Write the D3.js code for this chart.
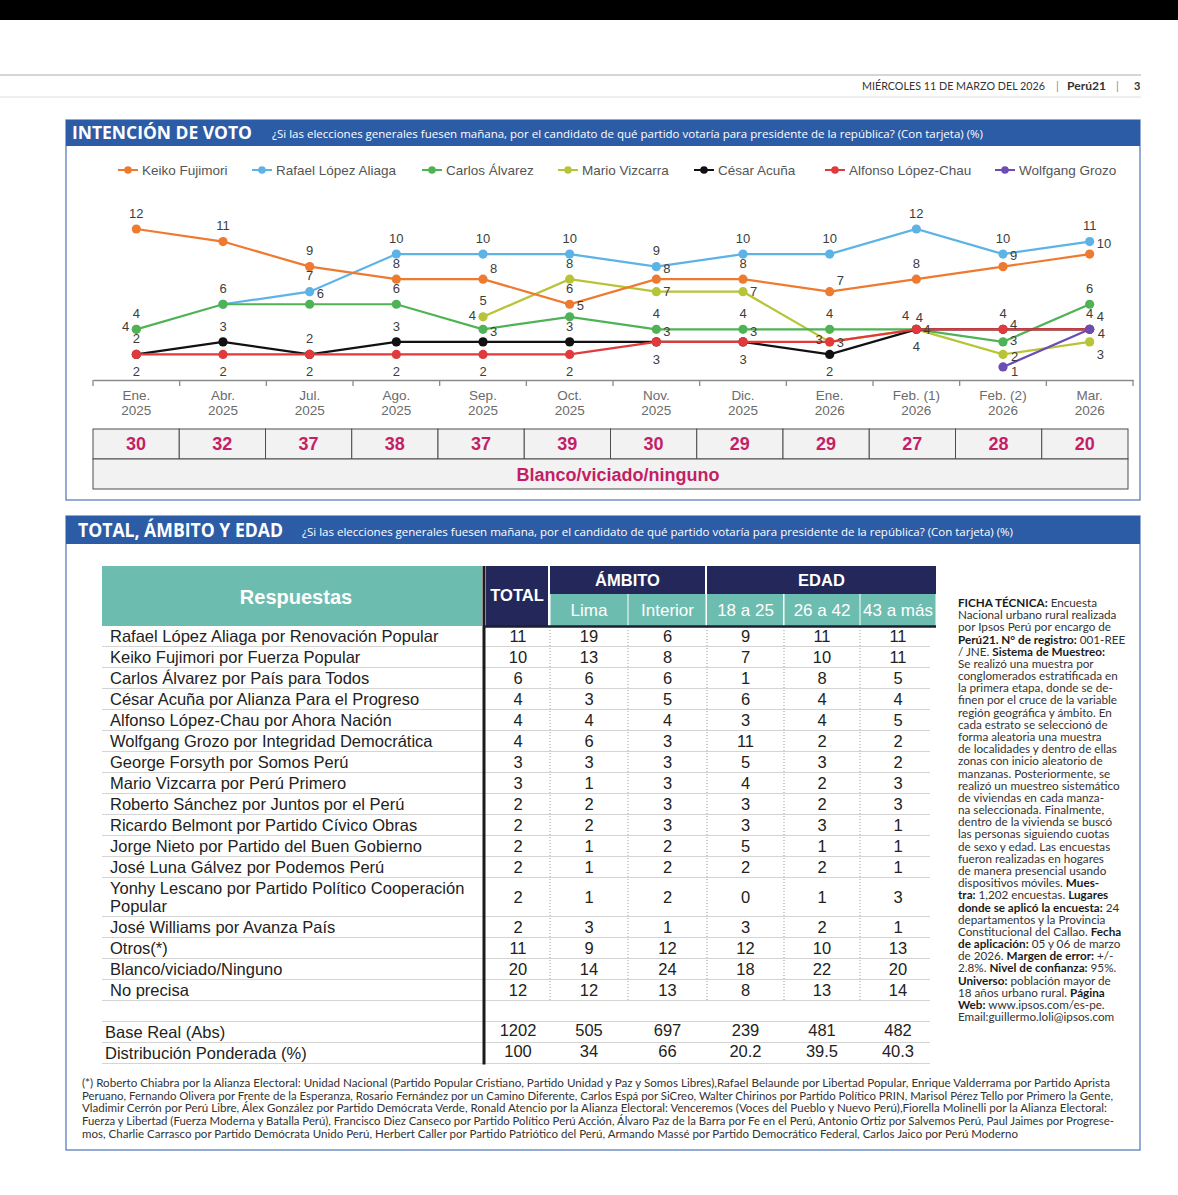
<!DOCTYPE html>
<html lang="es">
<head>
<meta charset="utf-8">
<title>Intención de voto</title>
<script src="https://cdn.jsdelivr.net/npm/d3@7"></script>
<style>
  body { margin: 0; background: #fff; }
  svg { display: block; }
</style>
</head>
<body>
<svg id="pagina"></svg>
<script>
// ---------- datos: intención de voto ----------
const meses = ["Ene.", "Abr.", "Jul.", "Ago.", "Sep.", "Oct.", "Nov.", "Dic.", "Ene.", "Feb. (1)", "Feb. (2)", "Mar."];
const anios = ["2025", "2025", "2025", "2025", "2025", "2025", "2025", "2025", "2026", "2026", "2026", "2026"];
const candidatos = ["Keiko Fujimori", "Rafael López Aliaga", "Carlos Álvarez", "Mario Vizcarra", "César Acuña", "Alfonso López-Chau", "Wolfgang Grozo"];

const keiko       = [12, 11, 9, 8, 8, 6, 8, 8, 7, 8, 9, 10];
const lopezAliaga = [null, 6, 7, 10, 10, 10, 9, 10, 10, 12, 10, 11];
const alvarez     = [4, 6, 6, 6, 4, 5, 4, 4, 4, 4, 3, 6];
const vizcarra    = [4, null, null, null, 5, 8, 7, 7, 3, 4, 2, 3];
const acuna       = [2, 3, 2, 3, 3, 3, 3, 3, 2, 4, 4, 4];
const lopezChau   = [2, 2, 2, 2, 2, 2, 3, 3, 3, 4, 4, 4];
const grozo       = [null, null, null, null, null, null, null, null, null, null, 1, 4];

const blanco = [30, 32, 37, 38, 37, 39, 30, 29, 29, 27, 28, 20];

// ---------- datos: total, ámbito y edad ----------
const respuestas = [
  "Rafael López Aliaga por Renovación Popular",
  "Keiko Fujimori por Fuerza Popular",
  "Carlos Álvarez por País para Todos",
  "César Acuña por Alianza Para el Progreso",
  "Alfonso López-Chau por Ahora Nación",
  "Wolfgang Grozo por Integridad Democrática",
  "George Forsyth por Somos Perú",
  "Mario Vizcarra por Perú Primero",
  "Roberto Sánchez por Juntos por el Perú",
  "Ricardo Belmont por Partido Cívico Obras",
  "Jorge Nieto por Partido del Buen Gobierno",
  "José Luna Gálvez por Podemos Perú",
  "Yonhy Lescano por Partido Político Cooperación Popular",
  "José Williams por Avanza País",
  "Otros(*)",
  "Blanco/viciado/Ninguno",
  "No precisa"
];
const total    = [11, 10, 6, 4, 4, 4, 3, 3, 2, 2, 2, 2, 2, 2, 11, 20, 12];
const lima     = [19, 13, 6, 3, 4, 6, 3, 1, 2, 2, 1, 1, 1, 3, 9, 14, 12];
const interior = [6, 8, 6, 5, 4, 3, 3, 3, 3, 3, 2, 2, 2, 1, 12, 24, 13];
const edad18   = [9, 7, 1, 6, 3, 11, 5, 4, 3, 3, 5, 2, 0, 3, 12, 18, 8];
const edad26   = [11, 10, 8, 4, 4, 2, 3, 2, 2, 3, 1, 2, 1, 2, 10, 22, 13];
const edad43   = [11, 11, 5, 4, 5, 2, 2, 3, 3, 1, 1, 1, 3, 1, 13, 20, 14];
const baseReal     = ["1202", "505", "697", "239", "481", "482"];
const distribucion = ["100", "34", "66", "20.2", "39.5", "40.3"];

const ficha = [
  "**FICHA TÉCNICA:** Encuesta",
  "Nacional urbano rural realizada",
  "por Ipsos Perú por encargo de",
  "**Perú21. N° de registro:** 001-REE",
  "/ JNE. **Sistema de Muestreo:**",
  "Se realizó una muestra por",
  "conglomerados estratificada en",
  "la primera etapa, donde se de-",
  "finen por el cruce de la variable",
  "región geográfica y ámbito. En",
  "cada estrato se seleccionó de",
  "forma aleatoria una muestra",
  "de localidades y dentro de ellas",
  "zonas con inicio aleatorio de",
  "manzanas. Posteriormente, se",
  "realizó un muestreo sistemático",
  "de viviendas en cada manza-",
  "na seleccionada. Finalmente,",
  "dentro de la vivienda se buscó",
  "las personas siguiendo cuotas",
  "de sexo y edad. Las encuestas",
  "fueron realizadas en hogares",
  "de manera presencial usando",
  "dispositivos móviles. **Mues-**",
  "**tra:** 1,202 encuestas. **Lugares**",
  "**donde se aplicó la encuesta:** 24",
  "departamentos y la Provincia",
  "Constitucional del Callao. **Fecha**",
  "**de aplicación:** 05 y 06 de marzo",
  "de 2026. **Margen de error:** +/-",
  "2.8%. **Nivel de confianza:** 95%.",
  "**Universo:** población mayor de",
  "18 años urbano rural. **Página**",
  "**Web:** www.ipsos.com/es-pe.",
  "Email:guillermo.loli@ipsos.com"
];

const notas = [
  "(*) Roberto Chiabra por la Alianza Electoral: Unidad Nacional (Partido Popular Cristiano, Partido Unidad y Paz y Somos Libres),Rafael Belaunde por Libertad Popular, Enrique Valderrama por Partido Aprista",
  "Peruano, Fernando Olivera por Frente de la Esperanza, Rosario Fernández por un Camino Diferente, Carlos Espá por SiCreo, Walter Chirinos por Partido Político PRIN, Marisol Pérez Tello por Primero la Gente,",
  "Vladimir Cerrón por Perú Libre, Álex González por Partido Demócrata Verde, Ronald Atencio por la Alianza Electoral: Venceremos (Voces del Pueblo y Nuevo Perú),Fiorella Molinelli por la Alianza Electoral:",
  "Fuerza y Libertad (Fuerza Moderna y Batalla Perú), Francisco Diez Canseco por Partido Político Perú Acción, Álvaro Paz de la Barra por Fe en el Perú, Antonio Ortiz por Salvemos Perú, Paul Jaimes por Progrese-",
  "mos, Charlie Carrasco por Partido Demócrata Unido Perú, Herbert Caller por Partido Patriótico del Perú, Armando Massé por Partido Democrático Federal, Carlos Jaico por Perú Moderno"
];

const subtitulo = "¿Si las elecciones generales fuesen mañana, por el candidato de qué partido votaría para presidente de la república? (Con tarjeta) (%)";

// ---------- estilos ----------
const width = 1178, height = 1195;
const azul = "#2d5ca7", navy = "#23275a", teal = "#6cbdb0", magenta = "#c41f66";
const colores = ["#ee7a30", "#5db3e5", "#4fb356", "#b7c437", "#111111", "#e23a3c", "#6c4db5"];
const valores = [keiko, lopezAliaga, alvarez, vizcarra, acuna, lopezChau, grozo];
const ordenDibujo = [3, 1, 0, 2, 4, 5, 6];   // el último queda encima

// dónde va cada etiqueta de valor (t arriba, b abajo, r derecha, l izquierda...)
const posEtiq = [
  ["t", "t", "t", "t", "ra", "t", "ra", "t", "ra", "t", "ra", "ra"],
  ["", "", "t", "t", "t", "t", "t", "t", "t", "t", "t", "t"],
  ["t", "t", "ra", "t", "la", "ra", "t", "t", "t", "la", "rg", "t"],
  ["l", "", "", "", "t", "t", "r", "r", "l", "r", "r2", "rb"],
  ["t", "t", "t", "t", "ra", "t", "ra", "ra", "b", "b", "ru", "rA"],
  ["b", "b", "b", "b", "b", "b", "b", "b", "r", "tr", "t", "t"],
  ["", "", "", "", "", "", "", "", "", "", "rd", "rd"]
];
const offs = {
  t:  {dx: 0,  dy: -16, a: "middle"},
  tr: {dx: 3,  dy: -12, a: "middle"},
  b:  {dx: 0,  dy: 17,  a: "middle"},
  r:  {dx: 7,  dy: 0,   a: "start"},
  ru: {dx: 7,  dy: -5,  a: "start"},
  rg: {dx: 7,  dy: -2,  a: "start"},
  r2: {dx: 8,  dy: 2,   a: "start"},
  rd: {dx: 8,  dy: 4,   a: "start"},
  ra: {dx: 7,  dy: -11, a: "start"},
  rA: {dx: 7,  dy: -13, a: "start"},
  rb: {dx: 7,  dy: 12,  a: "start"},
  l:  {dx: -7, dy: -3,  a: "end"},
  la: {dx: -7, dy: -14, a: "end"}
};

const svg = d3.select("#pagina")
    .attr("width", width)
    .attr("height", height)
    .attr("viewBox", [0, 0, width, height])
    .attr("font-family", "'Liberation Sans', Arial, sans-serif");

// ---------- cabecera del diario ----------
svg.append("rect").attr("width", width).attr("height", 20).attr("fill", "#000");
svg.append("line").attr("x1", 0).attr("x2", 1141).attr("y1", 75).attr("y2", 75).attr("stroke", "#c8c8c8").attr("stroke-width", 1.5);
svg.append("line").attr("x1", 0).attr("x2", 1141).attr("y1", 97).attr("y2", 97).attr("stroke", "#dedede").attr("stroke-width", 1);
const cab = svg.append("g").attr("font-family", "Lato, 'Open Sans', sans-serif").attr("fill", "#333").attr("font-size", 11);
cab.append("text").attr("x", 862).attr("y", 90).attr("textLength", 183).attr("lengthAdjust", "spacingAndGlyphs").text("MIÉRCOLES 11 DE MARZO DEL 2026");
cab.append("text").attr("x", 1056).attr("y", 90).attr("fill", "#888").text("|");
cab.append("text").attr("x", 1067).attr("y", 90).attr("font-weight", "bold").attr("textLength", 39).attr("lengthAdjust", "spacingAndGlyphs").text("Perú21");
cab.append("text").attr("x", 1116).attr("y", 90).attr("fill", "#888").text("|");
cab.append("text").attr("x", 1134).attr("y", 90).attr("font-weight", "bold").text("3");

// ---------- marcos con barra de título ----------
function panel(y0, y1, hBarra, titulo, tx, tw, ts, sx) {
  const g = svg.append("g");
  g.append("rect").attr("x", 66).attr("y", y0).attr("width", 1074).attr("height", y1 - y0)
      .attr("fill", "#fff").attr("stroke", "#5b7fbd").attr("stroke-width", 1.3);
  g.append("rect").attr("x", 66).attr("y", y0).attr("width", 1074).attr("height", hBarra).attr("fill", azul);
  g.append("text").attr("x", tx).attr("y", y0 + hBarra - 7)
      .attr("font-family", "'Open Sans', sans-serif").attr("font-weight", "bold")
      .attr("font-size", ts).attr("fill", "#fff")
      .attr("textLength", tw).attr("lengthAdjust", "spacingAndGlyphs").text(titulo);
  g.append("text").attr("x", sx).attr("y", y0 + hBarra - 8)
      .attr("font-family", "'Open Sans', sans-serif").attr("font-size", 11).attr("fill", "#fff")
      .attr("textLength", 711).attr("lengthAdjust", "spacingAndGlyphs").text(subtitulo);
}
panel(120, 500, 26, "INTENCIÓN DE VOTO", 72, 180, 18, 272);
panel(516, 1150, 28, "TOTAL, ÁMBITO Y EDAD", 78, 205, 20, 302);

// ---------- gráfico de líneas ----------
const x = d3.scaleBand().domain(d3.range(meses.length)).range([93, 1133]);
const y = d3.scaleLinear().domain([0, 12]).range([379.5, 229]);
const cx = i => x(i) + x.bandwidth() / 2;

// leyenda
const legX = [118, 252, 422, 558, 694, 825, 995];
const leg = svg.append("g").selectAll("g").data(candidatos).join("g")
    .attr("transform", (d, i) => `translate(${legX[i]},170)`);
leg.append("line").attr("x2", 20).attr("stroke", (d, i) => colores[i]).attr("stroke-width", 2);
leg.append("circle").attr("cx", 10).attr("r", 3.8).attr("fill", (d, i) => colores[i]);
leg.append("text").attr("x", 24).attr("dy", "0.35em").attr("font-size", 13.5).attr("fill", "#555").text(d => d);

// eje x con marcas en los límites de cada mes
const gx = svg.append("g").attr("transform", "translate(0,380)")
    .call(d3.axisBottom(x).tickSize(0).tickSizeOuter(0).tickFormat(""));
gx.select(".domain").attr("stroke", "#8a8a8a").attr("stroke-width", 1.3);
gx.selectAll(".marca").data(d3.range(meses.length + 1)).join("line")
    .attr("class", "marca")
    .attr("x1", i => i < meses.length ? x(i) : x.range()[1])
    .attr("x2", i => i < meses.length ? x(i) : x.range()[1])
    .attr("y2", 6).attr("stroke", "#8a8a8a").attr("stroke-width", 1.3);
const mt = gx.selectAll(".mes").data(d3.range(meses.length)).join("text")
    .attr("class", "mes").attr("text-anchor", "middle")
    .attr("font-size", 13.5).attr("fill", "#6b6b6b");
mt.append("tspan").attr("x", cx).attr("y", 20).text(i => meses[i]);
mt.append("tspan").attr("x", cx).attr("y", 35).text(i => anios[i]);

// líneas y puntos
const linea = d3.line()
    .defined(d => d.v != null)
    .x(d => cx(d.i))
    .y(d => y(d.v));

const gl = svg.append("g");
ordenDibujo.forEach(k => {
  const pts = valores[k].map((v, i) => ({i, v}));
  gl.append("path").datum(pts)
      .attr("d", linea).attr("fill", "none")
      .attr("stroke", colores[k]).attr("stroke-width", 2.2);
  gl.append("g").selectAll("circle").data(pts.filter(d => d.v != null)).join("circle")
      .attr("cx", d => cx(d.i)).attr("cy", d => y(d.v)).attr("r", 4.6)
      .attr("fill", colores[k]);
});

// etiquetas de valor
const etiq = [];
valores.forEach((serie, k) => serie.forEach((v, i) => {
  if (v != null && posEtiq[k][i]) etiq.push({v, i, o: offs[posEtiq[k][i]]});
}));
svg.append("g").selectAll("text").data(etiq).join("text")
    .attr("x", d => cx(d.i) + d.o.dx)
    .attr("y", d => y(d.v) + d.o.dy)
    .attr("dy", "0.36em")
    .attr("text-anchor", d => d.o.a)
    .attr("font-size", 13).attr("fill", "#3d3d3d")
    .text(d => d.v);

// franja de blanco/viciado/ninguno (algo más corta que el eje)
const xb = x.copy().range([93, 1128]);
const gb = svg.append("g");
gb.selectAll("rect").data(blanco).join("rect")
    .attr("x", (d, i) => xb(i)).attr("y", 429)
    .attr("width", xb.bandwidth()).attr("height", 30)
    .attr("fill", "#f2f2f2").attr("stroke", "#4d4d4d").attr("stroke-width", 1);
gb.append("rect").attr("x", xb.range()[0]).attr("y", 459)
    .attr("width", xb.range()[1] - xb.range()[0]).attr("height", 30)
    .attr("fill", "#f2f2f2").attr("stroke", "#4d4d4d").attr("stroke-width", 1);
gb.selectAll("text.num").data(blanco).join("text")
    .attr("class", "num")
    .attr("x", (d, i) => xb(i) + xb.bandwidth() / 2).attr("y", 444).attr("dy", "0.36em")
    .attr("text-anchor", "middle").attr("font-size", 18).attr("font-weight", "bold")
    .attr("fill", magenta).text(d => d);
gb.append("text").attr("x", 618).attr("y", 475).attr("dy", "0.36em")
    .attr("text-anchor", "middle").attr("font-size", 18).attr("font-weight", "bold")
    .attr("fill", magenta).text("Blanco/viciado/ninguno");

// ---------- tabla: total, ámbito y edad ----------
const bordes = [486, 550, 628, 707, 784, 860, 936];   // límites de columnas numéricas
const colC = d3.range(6).map(j => (bordes[j] + bordes[j + 1]) / 2);
const gt = svg.append("g");

// encabezados
gt.append("rect").attr("x", 102).attr("y", 566).attr("width", 380).attr("height", 60).attr("fill", teal);
gt.append("text").attr("x", 296).attr("y", 597).attr("dy", "0.36em").attr("text-anchor", "middle")
    .attr("font-size", 20).attr("font-weight", "bold").attr("fill", "#fff").text("Respuestas");
gt.append("rect").attr("x", 486).attr("y", 566).attr("width", 62).attr("height", 60).attr("fill", navy);
gt.append("text").attr("x", 517).attr("y", 595).attr("dy", "0.36em").attr("text-anchor", "middle")
    .attr("font-size", 16.5).attr("font-weight", "bold").attr("fill", "#fff").text("TOTAL");

const grupos = [{t: "ÁMBITO", x0: 550, x1: 705}, {t: "EDAD", x0: 707, x1: 936}];
grupos.forEach(gr => {
  gt.append("rect").attr("x", gr.x0).attr("y", 566).attr("width", gr.x1 - gr.x0).attr("height", 28).attr("fill", navy);
  gt.append("text").attr("x", (gr.x0 + gr.x1) / 2).attr("y", 580).attr("dy", "0.36em").attr("text-anchor", "middle")
      .attr("font-size", 16.5).attr("font-weight", "bold").attr("fill", "#fff").text(gr.t);
});
const subCab = ["Lima", "Interior", "18 a 25", "26 a 42", "43 a más"];
gt.selectAll("rect.sub").data(subCab).join("rect")
    .attr("class", "sub")
    .attr("x", (d, j) => bordes[j + 1] + (j === 2 ? 0 : 0.5))
    .attr("y", 594)
    .attr("width", (d, j) => bordes[j + 2] - bordes[j + 1] - (j === 1 ? 2 : 1))
    .attr("height", 32).attr("fill", teal);
gt.selectAll("text.sub").data(subCab).join("text")
    .attr("class", "sub")
    .attr("x", (d, j) => colC[j + 1]).attr("y", 610).attr("dy", "0.36em")
    .attr("text-anchor", "middle").attr("font-size", 17).attr("fill", "#fff").text(d => d);

// filas: ajustar el nombre a varias líneas si no cabe
const filas = respuestas.map((r, i) => ({
  nombre: r,
  vals: [total[i], lima[i], interior[i], edad18[i], edad26[i], edad43[i]]
}));
const medir = gt.append("text").attr("font-size", 16.5);
filas.forEach(f => {
  const palabras = f.nombre.split(" ");
  const lineas = [];
  let actual = "";
  palabras.forEach(p => {
    const prueba = actual ? actual + " " + p : p;
    medir.text(prueba);
    if (medir.node().getComputedTextLength() > 366 && actual) {
      lineas.push(actual);
      actual = p;
    } else actual = prueba;
  });
  lineas.push(actual);
  f.lineas = lineas;
});
medir.remove();

let yTop = 625.5;
filas.forEach(f => {
  f.h = 21 + (f.lineas.length - 1) * 18;
  f.c = yTop + f.h / 2;
  yTop += f.h;
  f.fondo = yTop;
});
const finFilas = yTop;
const extra = [
  {nombre: "Base Real (Abs)", vals: baseReal, c: finFilas + 31.5, fondo: finFilas + 42},
  {nombre: "Distribución Ponderada (%)", vals: distribucion, c: finFilas + 52.5, fondo: finFilas + 63}
];

// líneas separadoras
const sep = filas.map(f => f.fondo).concat([finFilas + 21], extra.map(e => e.fondo));
gt.selectAll("line.fila").data(sep).join("line")
    .attr("class", "fila")
    .attr("x1", 102).attr("x2", 930).attr("y1", d => d).attr("y2", d => d)
    .attr("stroke", "#d4d4d4").attr("stroke-width", 1);
gt.selectAll("line.col").data(bordes.slice(1, 6)).join("line")
    .attr("class", "col")
    .attr("x1", d => d).attr("x2", d => d).attr("y1", 627).attr("y2", finFilas)
    .attr("stroke", "#9a9a9a").attr("stroke-width", 1).attr("stroke-dasharray", "1,2");

// nombres y números
const gf = gt.append("g").attr("font-size", 16.5).attr("fill", "#222");
filas.forEach(f => {
  const n = f.lineas.length;
  const t = gf.append("text");
  f.lineas.forEach((l, k) => {
    t.append("tspan").attr("x", 110).attr("y", f.c + (k - (n - 1) / 2) * 18).attr("dy", "0.36em").text(l);
  });
  gf.selectAll(null).data(f.vals).join("text")
      .attr("x", (d, j) => colC[j]).attr("y", f.c).attr("dy", "0.36em")
      .attr("text-anchor", "middle").text(d => d);
});
extra.forEach(f => {
  gf.append("text").attr("x", 105).attr("y", f.c).attr("dy", "0.36em").text(f.nombre);
  gf.selectAll(null).data(f.vals).join("text")
      .attr("x", (d, j) => colC[j]).attr("y", f.c - 2).attr("dy", "0.36em")
      .attr("text-anchor", "middle").text(d => d);
});

// líneas gruesas de la tabla
gt.append("line").attr("x1", 484).attr("x2", 484).attr("y1", 566).attr("y2", finFilas + 64)
    .attr("stroke", "#1b1b1b").attr("stroke-width", 3);
gt.append("line").attr("x1", 484).attr("x2", 936).attr("y1", 626.5).attr("y2", 626.5)
    .attr("stroke", "#1d1f33").attr("stroke-width", 2.5);

// ---------- ficha técnica (un solo bloque de texto) ----------
const tFicha = svg.append("text")
    .attr("font-family", "Lato, 'Open Sans', sans-serif")
    .attr("font-size", 11.7).attr("fill", "#333");
ficha.forEach((l, k) => {
  const ln = tFicha.append("tspan").attr("x", 958).attr("y", 607 + k * 12.18);
  l.split("**").forEach((trozo, j) => {
    if (trozo) ln.append("tspan").attr("font-weight", j % 2 ? "bold" : "normal")
        .attr("fill", j % 2 ? "#1a1a1a" : "#333").text(trozo);
  });
});

// ---------- nota al pie ----------
const anchoNota = [1028, 1031, 1025, 1032, 936];
const tNota = svg.append("text")
    .attr("font-family", "Lato, 'Open Sans', sans-serif")
    .attr("font-size", 10.5).attr("fill", "#333");
tNota.selectAll("tspan").data(notas).join("tspan")
    .attr("x", 82).attr("y", (d, i) => 1087 + i * 12.7)
    .attr("textLength", (d, i) => anchoNota[i]).attr("lengthAdjust", "spacingAndGlyphs")
    .text(d => d);
</script>
</body>
</html>
